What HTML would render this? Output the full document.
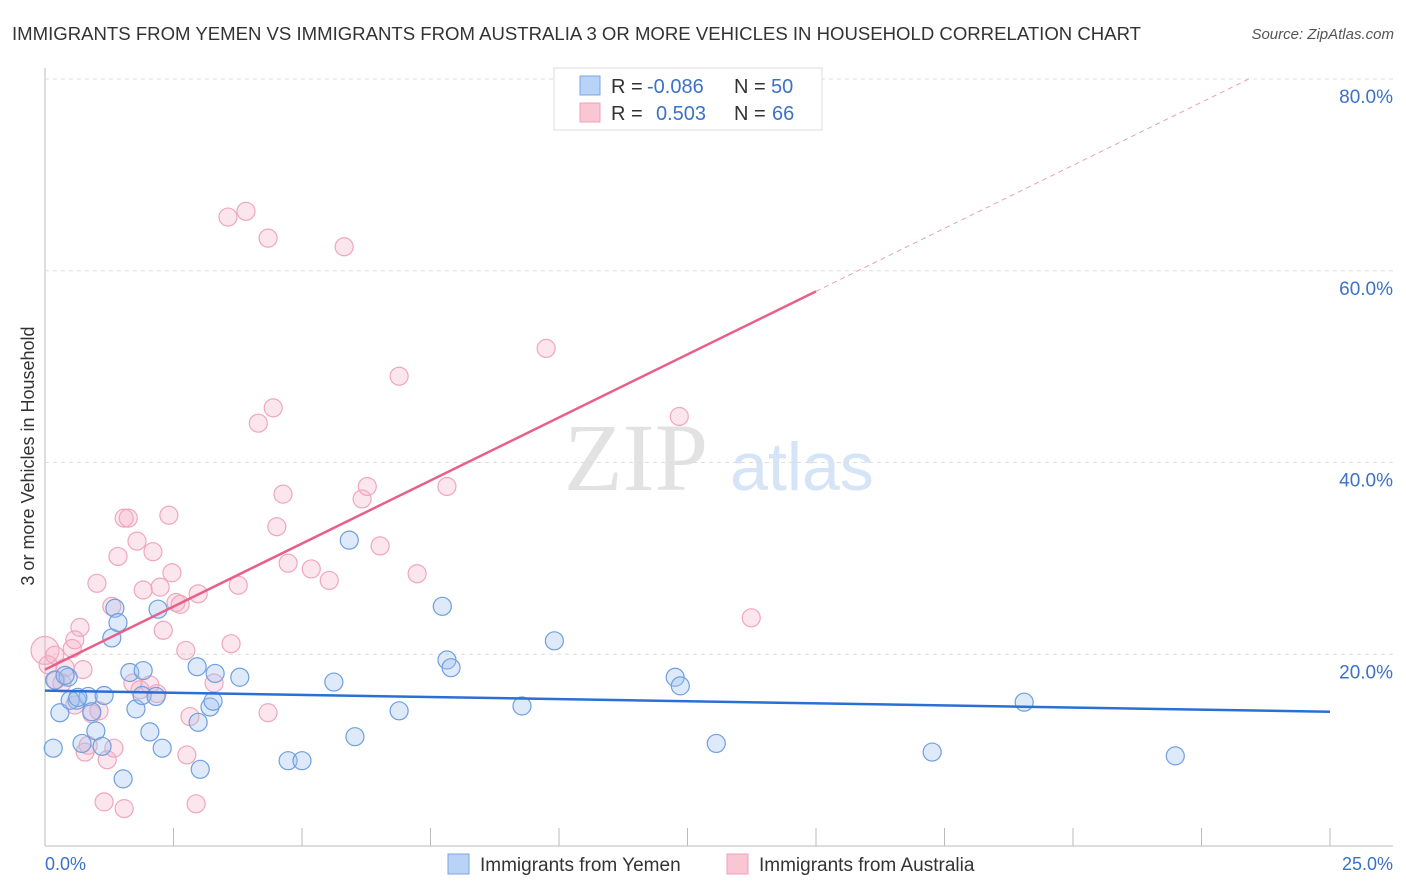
<!DOCTYPE html>
<html><head><meta charset="utf-8"><style>
body{margin:0;background:#fff;font-family:"Liberation Sans",sans-serif}
svg{display:block}
</style></head><body>
<svg id="c" width="1406" height="892">
<text x="12" y="40" font-size="18.5" fill="#333" textLength="1129" lengthAdjust="spacingAndGlyphs">IMMIGRANTS FROM YEMEN VS IMMIGRANTS FROM AUSTRALIA 3 OR MORE VEHICLES IN HOUSEHOLD CORRELATION CHART</text>
<text x="1394" y="39" font-size="15" fill="#555" font-style="italic" text-anchor="end">Source: ZipAtlas.com</text>
<g><text x="636" y="490" font-size="96" font-family="Liberation Serif" fill="#e2e2e2" text-anchor="middle">ZIP</text><text x="802" y="490" font-size="68" fill="#d5e4f6" text-anchor="middle">atlas</text></g>
<text transform="translate(34,456) rotate(-90)" font-size="18" fill="#333" text-anchor="middle">3 or more Vehicles in Household</text>
<g id="grid"></g><g id="pts"></g><g id="lines"></g>
<g>
<rect x="554" y="68" width="268" height="62" fill="#fff" stroke="#ddd"/>
<rect x="580" y="76" width="20" height="19" fill="#b8d3f5" stroke="#7aa6e3"/>
<rect x="580" y="103" width="20" height="19" fill="#f9c6d4" stroke="#eea2b8"/>
<text x="611" y="93" font-size="20" fill="#333">R = <tspan x="647" fill="#3b72c8">-0.086</tspan><tspan x="734">N = </tspan><tspan x="771" fill="#3b72c8">50</tspan></text>
<text x="611" y="120" font-size="20" fill="#333">R = <tspan x="656" fill="#3b72c8">0.503</tspan><tspan x="734">N = </tspan><tspan x="772" fill="#3b72c8">66</tspan></text>
</g>
<g>
<rect x="448" y="854" width="21" height="20" fill="#b8d3f5" stroke="#7aa6e3"/>
<text x="480" y="871" font-size="19" fill="#333">Immigrants from Yemen</text>
<rect x="727" y="854" width="21" height="20" fill="#f9c6d4" stroke="#eea2b8"/>
<text x="759" y="871" font-size="19" fill="#333">Immigrants from Australia</text>
</g>
<text x="45" y="870" font-size="18" fill="#3b72c8">0.0%</text>
<text x="1393" y="870" font-size="18" fill="#3b72c8" text-anchor="end">25.0%</text>
</svg>
<script>
const yTicks=[20,40,60,80];
const yTickLabels=["20.0%","40.0%","60.0%","80.0%"];
const blueX=[0.16,0.29,0.19,0.45,0.62,0.72,0.84,0.91,0.99,1.11,1.15,1.30,1.36,1.42,1.52,1.65,1.77,1.91,1.89,2.04,2.16,2.20,2.28,2.96,3.02,2.98,3.21,3.27,3.31,3.79,4.73,5.00,5.62,5.92,6.03,6.89,7.73,7.82,7.90,9.28,9.91,12.26,12.36,13.06,17.26,19.05,21.99,0.39,0.49,0.64];
const blueY=[10.2,13.9,17.3,17.6,15.2,10.7,15.6,14.0,12.0,10.4,15.7,21.7,24.8,23.3,7.0,18.1,14.3,18.3,15.7,11.9,15.6,24.7,10.2,18.7,8.0,12.9,14.5,15.1,18.0,17.6,8.9,8.9,17.1,31.9,11.4,14.1,25.0,19.4,18.6,14.6,21.4,17.6,16.7,10.7,9.8,15.0,9.4,17.8,15.2,15.5];
const pinkX=[0.0,0.19,0.21,0.39,0.53,0.58,0.68,0.74,0.84,0.91,1.01,1.05,1.15,1.21,1.30,1.34,1.42,1.54,1.62,1.54,1.71,1.79,1.91,2.04,2.10,2.18,2.24,2.30,2.41,2.47,2.55,2.63,2.74,2.76,2.82,2.94,2.98,3.29,3.62,3.76,3.56,3.91,4.15,4.34,4.34,4.44,4.51,4.63,4.73,5.18,5.53,5.82,6.17,6.27,6.52,6.89,7.24,7.82,9.75,12.34,13.74,0.06,0.33,0.78,1.85,0.58];
const pinkY=[20.4,19.9,17.3,18.6,20.6,14.7,22.8,18.4,10.5,13.8,27.4,14.1,4.6,9.0,25.0,10.2,30.2,34.2,34.2,3.9,17.0,31.8,26.7,16.8,30.7,15.9,27.0,22.5,34.5,28.5,25.4,25.2,20.4,9.5,13.5,4.4,26.3,17.0,21.1,27.2,65.6,66.2,44.1,63.4,13.9,45.7,33.3,36.7,29.5,28.9,27.7,62.5,36.2,37.5,31.3,49.0,28.4,37.5,51.9,44.8,23.8,18.9,17.0,9.8,16.3,21.5];
const blueFit=[16.2,14.0];
const pinkFit=[18.4,2.63];
const NS='http://www.w3.org/2000/svg';
const sx=v=>45+v/25*1285, sy=v=>846-v/20*191.75;
function mk(p,t,a){const e=document.createElementNS(NS,t);for(const k in a)e.setAttribute(k,a[k]);p.appendChild(e);return e;}
const grid=document.getElementById('grid');
mk(grid,'line',{x1:45,y1:68,x2:45,y2:846,stroke:'#bbb'});
mk(grid,'line',{x1:45,y1:846,x2:1393,y2:846,stroke:'#bbb'});
for(let i=1;i<=10;i++){const x=sx(i*2.5);const t=mk(grid,'line',{x1:x,y1:828,x2:x,y2:846,stroke:'#bbb'});
}
yTicks.forEach((v,i)=>{const g=mk(grid,'line',{x1:45,y1:sy(v),x2:1393,y2:sy(v),stroke:'#ddd','stroke-dasharray':'4,4'});

const t=mk(grid,'text',{x:1393,y:sy(v)+24,'font-size':19,fill:'#3b72c8','text-anchor':'end'});t.textContent=yTickLabels[i];
});
const pts=document.getElementById('pts');
pinkX.forEach((x,i)=>{const c=mk(pts,'circle',{cx:sx(x),cy:sy(pinkY[i]),r:i===0?14:9,fill:'rgba(246,172,196,0.3)',stroke:'#f0a6bd','stroke-width':1.2});
});
blueX.forEach((x,i)=>{const c=mk(pts,'circle',{cx:sx(x),cy:sy(blueY[i]),r:9,fill:'rgba(160,196,240,0.35)',stroke:'#6f9fe0','stroke-width':1.2});
});
const L=document.getElementById('lines');
let e=mk(L,'line',{x1:sx(0),y1:sy(blueFit[0]),x2:sx(25),y2:sy(blueFit[1]),stroke:'#2a6fd6','stroke-width':2.5});

const pe=15, pd=(80-pinkFit[0])/pinkFit[1];
e=mk(L,'line',{x1:sx(0),y1:sy(pinkFit[0]),x2:sx(pe),y2:sy(pinkFit[0]+pinkFit[1]*pe),stroke:'#e8608a','stroke-width':2.5});

e=mk(L,'line',{x1:sx(pe),y1:sy(pinkFit[0]+pinkFit[1]*pe),x2:sx(pd),y2:sy(80),stroke:'#eaa0b8','stroke-width':1,'stroke-dasharray':'5,4'});

</script>
</body></html>
